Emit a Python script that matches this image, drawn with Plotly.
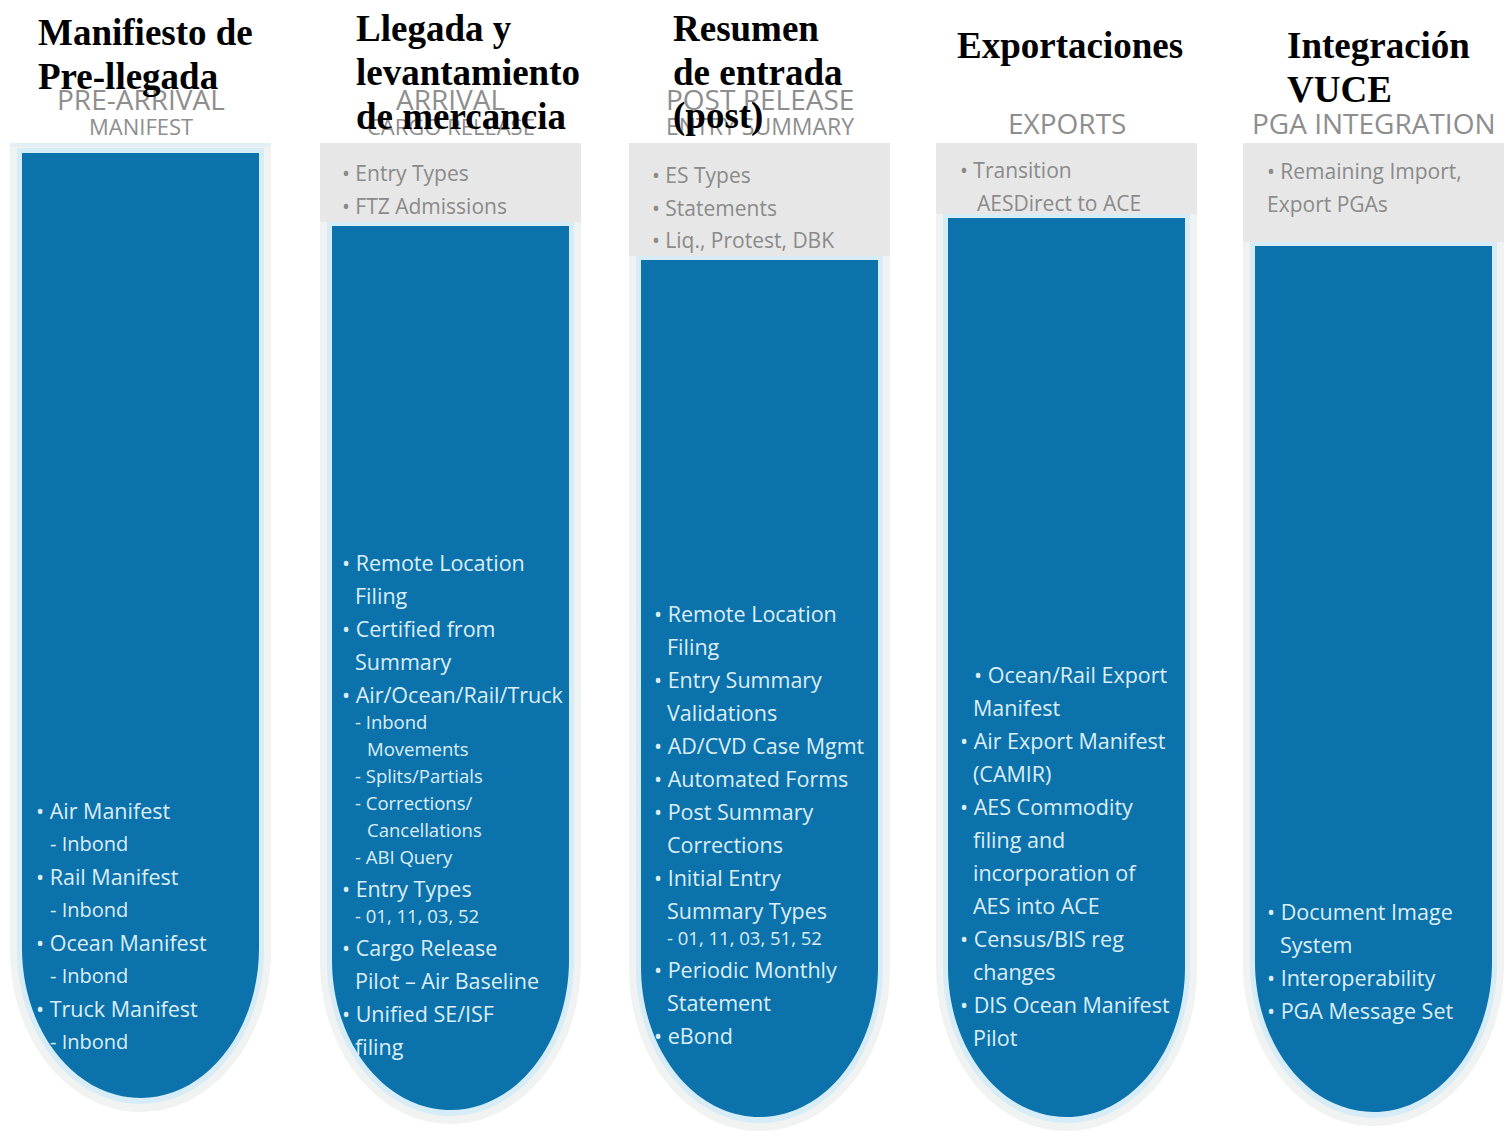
import plotly.graph_objects as go

# ---------------- data (text content) ----------------
titles_es = [
    ["Manifiesto de", "Pre-llegada"],
    ["Llegada y", "levantamiento", "de mercancia"],
    ["Resumen", "de entrada", "(post)"],
    ["Exportaciones"],
    ["Integración", "VUCE"],
]

headers_en = [
    ["PRE-ARRIVAL", "MANIFEST"],
    ["ARRIVAL", "CARGO RELEASE"],
    ["POST RELEASE", "ENTRY SUMMARY"],
    ["EXPORTS"],
    ["PGA INTEGRATION"],
]

# kinds: b = bullet, c = continuation, c0 = continuation at bullet position,
#        d = dash sub-item, s = small dash sub-item, sc = small continuation
gray_items = [
    [],
    [("b", "Entry Types"), ("b", "FTZ Admissions")],
    [("b", "ES Types"), ("b", "Statements"), ("b", "Liq., Protest, DBK")],
    [("b", "Transition"), ("c", "AESDirect to ACE")],
    [("b", "Remaining Import,"), ("c0", "Export PGAs")],
]

blue_items = [
    [("b", "Air Manifest"), ("d", "Inbond"),
     ("b", "Rail Manifest"), ("d", "Inbond"),
     ("b", "Ocean Manifest"), ("d", "Inbond"),
     ("b", "Truck Manifest"), ("d", "Inbond")],
    [("b", "Remote Location"), ("c", "Filing"),
     ("b", "Certified from"), ("c", "Summary"),
     ("b", "Air/Ocean/Rail/Truck"), ("s", "Inbond"), ("sc", "Movements"),
     ("s", "Splits/Partials"), ("s", "Corrections/"), ("sc", "Cancellations"),
     ("s", "ABI Query"),
     ("b", "Entry Types"), ("s", "01, 11, 03, 52"),
     ("b", "Cargo Release"), ("c", "Pilot – Air Baseline"),
     ("b", "Unified SE/ISF"), ("c", "filing")],
    [("b", "Remote Location"), ("c", "Filing"),
     ("b", "Entry Summary"), ("c", "Validations"),
     ("b", "AD/CVD Case Mgmt"),
     ("b", "Automated Forms"),
     ("b", "Post Summary"), ("c", "Corrections"),
     ("b", "Initial Entry"), ("c", "Summary Types"), ("s", "01, 11, 03, 51, 52"),
     ("b", "Periodic Monthly"), ("c", "Statement"),
     ("b", "eBond")],
    [("b", "Ocean/Rail Export"), ("c", "Manifest"),
     ("b", "Air Export Manifest"), ("c", "(CAMIR)"),
     ("b", "AES Commodity"), ("c", "filing and"), ("c", "incorporation of"),
     ("c", "AES into ACE"),
     ("b", "Census/BIS reg"), ("c", "changes"),
     ("b", "DIS Ocean Manifest"), ("c", "Pilot")],
    [("b", "Document Image"), ("c", "System"),
     ("b", "Interoperability"),
     ("b", "PGA Message Set")],
]

# ---------------- layout geometry ----------------
W, H = 1509, 1138
blue_x0 = [22, 332, 641, 948, 1255]
blue_w = 237
blue_top = [153, 226, 260, 218, 246]
blue_bottom = [1098, 1110, 1117, 1117, 1112]
curve_h = 150
panel_top = 143
pad = 12

title_x = [36, 354, 671, 955, 1285]
title_y0 = [32, 28, 28, 45, 45]
title_step = 44

gray_x = [340, 340, 650, 958, 1265]
gray_y0 = [175, 173, 175, 170, 171]
gray_step = 32.5

blue_text_x = [34, 340, 652, 958, 1265]
blue_text_y0 = [810, 562, 613, 674, 911]

BLUE = "#0b72ab"
HALO = "#d6ecf7"
PANEL = "#f1f2f2"
GRAYBOX = "#e7e7e7"
GRAYTEXT = "#8a8a8a"
WHITE_TEXT = "#dceef8"
BODY_FONT = "Open Sans"
TITLE_FONT = "Liberation Serif"


def tube(x0, x1, y0, yb, ch):
    xm = (x0 + x1) / 2
    rx = (x1 - x0) / 2
    yc = yb - ch
    k = 0.5523
    return (f"M {x0},{y0} L {x1},{y0} L {x1},{yc} "
            f"C {x1},{yc + k * ch} {xm + k * rx},{yb} {xm},{yb} "
            f"C {xm - k * rx},{yb} {x0},{yc + k * ch} {x0},{yc} Z")


fig = go.Figure()
# invisible trace to establish axes
fig.add_trace(go.Scatter(x=[0, W], y=[0, H], mode="markers",
                         marker=dict(opacity=0), hoverinfo="skip",
                         showlegend=False))

shapes = []
annotations = []

for i in range(5):
    x0 = blue_x0[i]
    x1 = x0 + blue_w
    cx = (x0 + x1) / 2
    # outer panel
    shapes.append(dict(type="path", path=tube(x0 - pad, x1 + pad, panel_top,
                                              blue_bottom[i] + pad + 2, curve_h + pad),
                       fillcolor=PANEL, line=dict(width=0), layer="below"))
    # light blue halo
    shapes.append(dict(type="path", path=tube(x0 - 5, x1 + 5, blue_top[i] - 5,
                                              blue_bottom[i] + 6, curve_h + 5),
                       fillcolor=HALO, line=dict(width=0), layer="below"))
    # gray header box
    shapes.append(dict(type="rect", x0=x0 - pad, x1=x1 + pad, y0=panel_top,
                       y1=blue_top[i] - 4 if gray_items[i] else blue_top[i] - 6,
                       fillcolor=GRAYBOX if gray_items[i] else "#e3eff6",
                       line=dict(width=0), layer="below"))
    # blue tube
    shapes.append(dict(type="path", path=tube(x0, x1, blue_top[i],
                                              blue_bottom[i], curve_h),
                       fillcolor=BLUE, line=dict(width=0), layer="below"))

    # english headers (under spanish titles)
    eh = headers_en[i]
    if len(eh) == 2:
        ys = [99, 126]
        sizes = [28, 22] if i < 2 else [28, 23]
    else:
        ys = [123]
        sizes = [28]
    for t, y, s in zip(eh, ys, sizes):
        annotations.append(dict(x=cx, y=y, text=t, showarrow=False,
                                xanchor="center", yanchor="middle",
                                font=dict(family=BODY_FONT, size=s, color="#8e8e8e")))

    # spanish titles
    for j, t in enumerate(titles_es[i]):
        annotations.append(dict(x=title_x[i], y=title_y0[i] + j * title_step,
                                text=f"<b>{t}</b>", showarrow=False,
                                xanchor="left", yanchor="middle",
                                font=dict(family=TITLE_FONT, size=37, color="#000000")))

    # gray items
    for j, (kind, t) in enumerate(gray_items[i]):
        if kind == "b":
            txt, dx = "• " + t, 0
        elif kind == "c":
            txt, dx = t, 17
        else:
            txt, dx = t, 0
        annotations.append(dict(x=gray_x[i] + dx, y=gray_y0[i] + j * gray_step,
                                text=txt, showarrow=False,
                                xanchor="left", yanchor="middle",
                                font=dict(family=BODY_FONT, size=21, color=GRAYTEXT)))

    # blue items
    y = blue_text_y0[i]
    prev = None
    for kind, t in blue_items[i]:
        if prev is not None:
            if kind in ("s", "sc"):
                y += 27
            elif prev in ("s", "sc"):
                y += 32
            else:
                y += 33
        bx = blue_text_x[i]
        size = 21.5
        if kind == "b":
            txt, dx = "• " + t, 0
            if i == 3 and prev is None:
                dx = 14
        elif kind == "c":
            txt, dx = t, 13
        elif kind == "d":
            txt, dx, size = "- " + t, 14, 20
        elif kind == "s":
            txt, dx, size = "- " + t, 13, 18.5
        else:  # sc
            txt, dx, size = t, 25, 18.5
        annotations.append(dict(x=bx + dx, y=y, text=txt, showarrow=False,
                                xanchor="left", yanchor="middle",
                                font=dict(family=BODY_FONT, size=size, color=WHITE_TEXT)))
        prev = kind

fig.update_layout(
    width=W, height=H,
    margin=dict(l=0, r=0, t=0, b=0),
    paper_bgcolor="#ffffff", plot_bgcolor="#ffffff",
    xaxis=dict(range=[0, W], visible=False, fixedrange=True),
    yaxis=dict(range=[H, 0], visible=False, fixedrange=True),
    shapes=shapes, annotations=annotations, showlegend=False,
)

fig.write_html("out.html",
               config={"displayModeBar": False},
               post_script="document.body.style.margin='0';document.body.style.overflow='hidden';")
